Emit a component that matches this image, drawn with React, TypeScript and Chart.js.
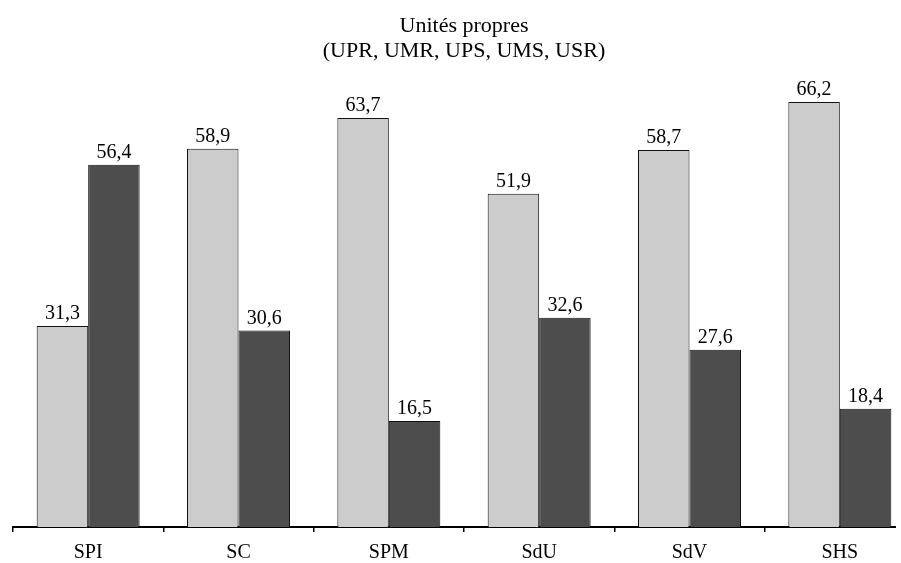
import React, { useEffect, useRef } from "react";
import { Chart, registerables } from "chart.js";

Chart.register(...registerables);

const categories = ["SPI", "SC", "SPM", "SdU", "SdV", "SHS"];
const seriesLight = [31.3, 58.9, 63.7, 51.9, 58.7, 66.2];
const seriesDark = [56.4, 30.6, 16.5, 32.6, 27.6, 18.4];
const titleLines = ["Unités propres", "(UPR, UMR, UPS, UMS, USR)"];

const FONT = "'Liberation Serif', 'Times New Roman', serif";

const labelPlugin = {
  id: "valueLabels",
  afterDatasetsDraw(chart: any) {
    const ctx = chart.ctx;
    ctx.save();
    ctx.font = `20px ${FONT}`;
    ctx.fillStyle = "#000";
    ctx.textAlign = "center";
    ctx.textBaseline = "alphabetic";
    chart.data.datasets.forEach((ds: any, di: number) => {
      const meta = chart.getDatasetMeta(di);
      meta.data.forEach((bar: any, i: number) => {
        const v = ds.data[i] as number;
        ctx.fillText(v.toFixed(1).replace(".", ","), bar.x, bar.y - 7);
      });
    });
    ctx.restore();
  },
};

export default function App() {
  const ref = useRef<HTMLCanvasElement>(null);
  useEffect(() => {
    if (!ref.current) return;
    const chart = new Chart(ref.current, {
      type: "bar",
      data: {
        labels: categories,
        datasets: [
          {
            data: seriesLight,
            backgroundColor: "#cccccc",
            borderColor: "#111",
            borderWidth: 1,
          },
          {
            data: seriesDark,
            backgroundColor: "#4d4d4d",
            borderColor: "#111",
            borderWidth: 1,
          },
        ],
      },
      options: {
        responsive: false,
        animation: false,
        datasets: { bar: { categoryPercentage: 0.685, barPercentage: 1 } },
        layout: { padding: { left: 5, right: 5, top: 0, bottom: -6 } },
        plugins: {
          legend: { display: false },
          tooltip: { enabled: false },
          title: {
            display: true,
            text: titleLines,
            color: "#000",
            font: { family: FONT, size: 22, weight: "normal", lineHeight: "25px" },
            padding: { top: 5.5, bottom: 14 },
          },
        },
        scales: {
          x: {
            border: { display: true, color: "#000", width: 2 },
            grid: {
              display: true,
              drawOnChartArea: false,
              drawTicks: true,
              tickLength: 5,
              color: "#000",
              lineWidth: 1.5,
            },
            ticks: { color: "#000", padding: 9, font: { family: FONT, size: 20 } },
          },
          y: { display: false, min: 0, max: 70 },
        },
      },
      plugins: [labelPlugin],
    });
    return () => chart.destroy();
  }, []);
  return (
    <div style={{ position: "fixed", left: 8, top: 8, width: 888, height: 555, overflow: "hidden" }}>
      <canvas ref={ref} width={912} height={560} style={{ display: "block" }} />
    </div>
  );
}
